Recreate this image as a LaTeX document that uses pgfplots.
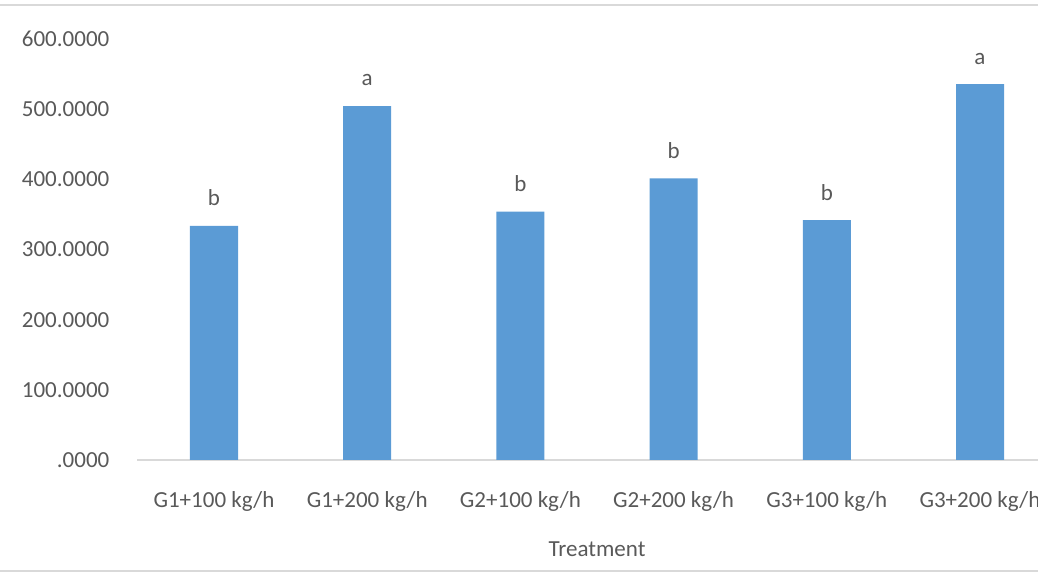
\documentclass[border=0pt]{standalone}
\usepackage{fontspec}
\setmainfont{Carlito}
\usepackage{pgfplots}
\pgfplotsset{compat=1.18}
\definecolor{barblue}{HTML}{5B9BD5}
\definecolor{txtgray}{HTML}{595959}
\definecolor{linegray}{HTML}{D9D9D9}
% 1 px of the reference = 0.5pt
\newcommand{\chartfont}{\fontsize{11.5pt}{13.5pt}\selectfont}
\begin{document}
\begin{tikzpicture}[x=0.5pt,y=0.5pt]
\chartfont
\useasboundingbox (0,0) rectangle (1038,576);
\begin{scope}
\clip (0,0) rectangle (1038,576);
\begin{axis}[
    at={(137.4pt*0.5,116pt*0.5)}, anchor=south west,
    scale only axis,
    width=459.6pt, height=210.5pt,
    xmin=-0.5, xmax=5.5,
    ymin=0, ymax=600,
    axis x line*=bottom,
    axis y line*=left,
    y axis line style={draw=none},
    x axis line style={draw=linegray, line width=1pt},
    major tick length=0pt,
    xtick=data,
    xticklabels={G1+100 kg/h, G1+200 kg/h, G2+100 kg/h, G2+200 kg/h, G3+100 kg/h, G3+200 kg/h},
    ytick={0,100,200,300,400,500,600},
    yticklabels={.0000,100.0000,200.0000,300.0000,400.0000,500.0000,600.0000},
    ticklabel style={font=\chartfont, text=txtgray},
    yticklabel style={anchor=east, xshift=-10pt},
    xticklabel style={anchor=north, yshift=-11.5pt},
    xlabel={Treatment},
    xlabel style={at={(axis description cs:0.5,0)}, anchor=base, yshift=-48.5pt,
        font=\chartfont, text=txtgray},
    ybar, bar width=24pt,
    nodes near coords,
    point meta=explicit symbolic,
    nodes near coords style={anchor=base, yshift=10pt, text=txtgray, font=\chartfont},
    clip=false,
  ]
  \addplot[fill=barblue, draw=none] coordinates {
    (0,333.5) [b]
    (1,504.5) [a]
    (2,353.9) [b]
    (3,401.4) [b]
    (4,342.0) [b]
    (5,535.8) [a]
  };
\end{axis}
\end{scope}
\draw[linegray, line width=1pt] (0,571) -- (1038,571);
\draw[linegray, line width=1pt] (0,5) -- (1038,5);
\end{tikzpicture}
\end{document}
